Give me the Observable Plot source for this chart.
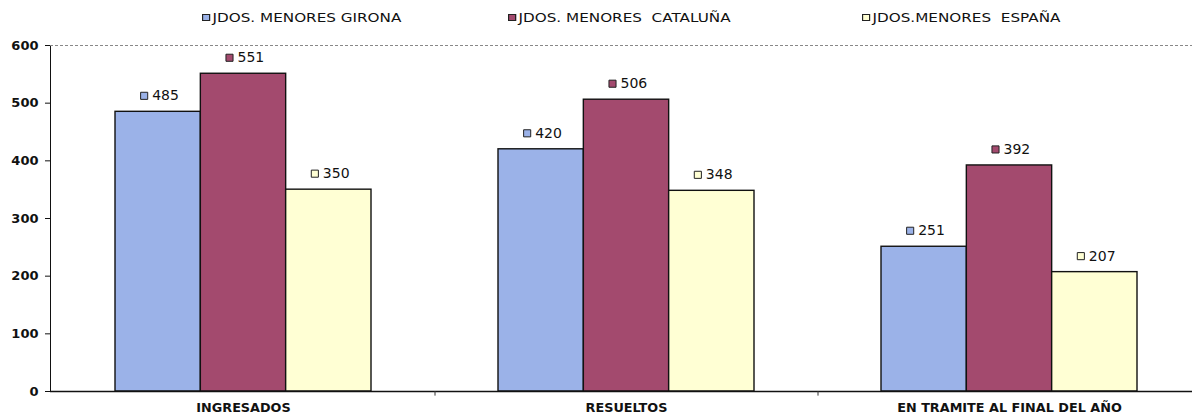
<!DOCTYPE html>
<html><head><meta charset="utf-8">
<script src="https://cdn.jsdelivr.net/npm/d3@7"></script>
<script src="https://cdn.jsdelivr.net/npm/@observablehq/plot@0.6"></script>
<style>
html,body{margin:0;padding:0;background:#fff;overflow:hidden}
#wrap{position:relative;width:1192px;height:414px;font-family:"DejaVu Sans",sans-serif}
#legend{position:relative;height:30px}
.item{position:absolute;top:10px;font-size:13px;white-space:pre;color:#111;display:flex;align-items:center;line-height:15px;transform:scaleX(1.17);transform-origin:left center}
.sw{display:inline-block;width:5px;height:5px;border:1px solid #222;margin-right:2px}
svg g[aria-label^="x-axis"] text{font-size:12.8px}
</style></head><body><div id="wrap"><div id="legend"></div><div id="chart"></div></div>
<script>
const categories = ["INGRESADOS", "RESUELTOS", "EN TRAMITE AL FINAL DEL AÑO"];
const seriesNames = ["JDOS. MENORES GIRONA", "JDOS. MENORES  CATALUÑA", "JDOS.MENORES  ESPAÑA"];
const girona = [485, 420, 251];
const cataluna = [551, 506, 392];
const espana = [350, 348, 207];
const yTicks = [0, 100, 200, 300, 400, 500, 600];
const colors = ["#9bb2e8", "#a34a6e", "#ffffd4"];
const legendLefts = [202, 508, 862];

const seriesValues = [girona, cataluna, espana];
const rows = seriesValues.flatMap((vals, s) => vals.map((v, c) => ({cat: categories[c], s, value: v})));

// legend
const legend = document.getElementById("legend");
seriesNames.forEach((name, i) => {
  const it = document.createElement("div");
  it.className = "item";
  it.style.left = legendLefts[i] + "px";
  const sw = document.createElement("span");
  sw.className = "sw";
  sw.style.background = colors[i];
  it.appendChild(sw);
  it.appendChild(document.createTextNode(name));
  legend.appendChild(it);
});

const base = {
  width: 1192, height: 384,
  marginLeft: 50, marginRight: 0, marginTop: 15, marginBottom: 23,
  style: {fontFamily: "DejaVu Sans, sans-serif", fontSize: "13px", fontWeight: "bold", color: "#111", background: "transparent", overflow: "visible"},
  x: {domain: categories, paddingInner: 0.331, paddingOuter: 0.1545, align: 0.544, tickSize: 0, tickPadding: 11, label: null},
  y: {domain: [0, 600], ticks: yTicks, tickFormat: d => String(d), tickSize: 5, tickPadding: 7, line: true, label: null}
};
const probe = Plot.plot({...base, marks: [Plot.barY(rows, {x: "cat", y: "value"})]});
const xs = probe.scale("x");
const bw = xs.bandwidth, step = xs.step;
const sub = bw / 3;

const marks = [
  Plot.ruleY([600], {stroke: "#888", strokeDasharray: "3,2", strokeWidth: 1})
];
seriesValues.forEach((vals, s) => {
  const data = rows.filter(r => r.s === s);
  marks.push(Plot.barY(data, {x: "cat", y: "value", fill: colors[s], stroke: "#111", strokeWidth: 1.4, insetLeft: s * sub, insetRight: (2 - s) * sub}));
  marks.push(Plot.dot(data, {x: "cat", y: "value", dx: (s - 1) * sub - 14, dy: -16, symbol: "square", r: 4, fill: colors[s], stroke: "#222", strokeWidth: 1}));
  marks.push(Plot.text(data, {x: "cat", y: "value", text: d => String(d.value), dx: (s - 1) * sub - 6, dy: -16, textAnchor: "start", fontWeight: "normal", fontSize: 14, fill: "#111"}));
});
marks.push(Plot.ruleY([0], {stroke: "#111", strokeWidth: 1.3}));
marks.push(Plot.ruleX(categories.slice(1), {x: d => d, y1: 0, y2: -8, dx: -step / 2, stroke: "#333"}));

const chart = Plot.plot({...base, marks});
document.getElementById("chart").appendChild(chart);
</script></body></html>
